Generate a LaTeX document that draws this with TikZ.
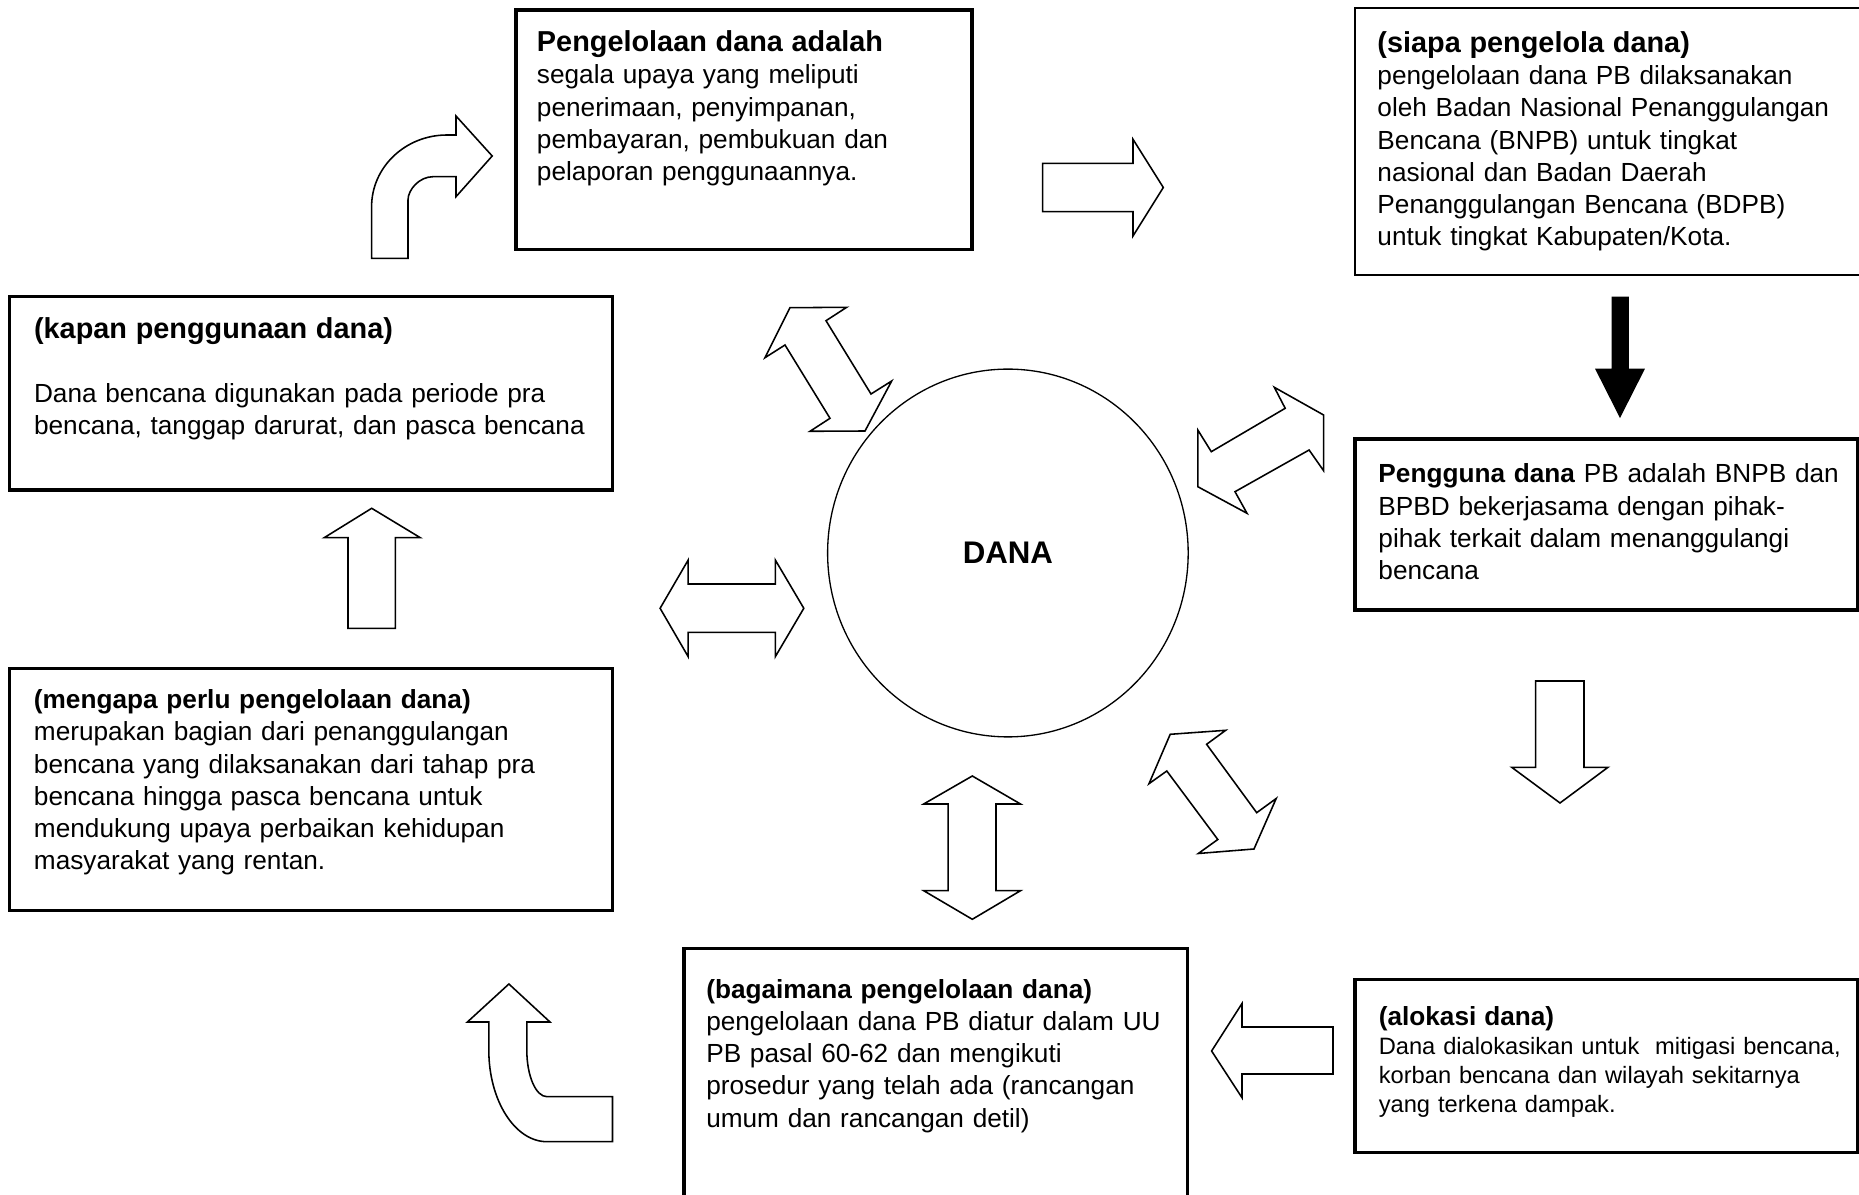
\documentclass[tikz,border=0pt]{standalone}
\usepackage{fontspec}
\setmainfont{Liberation Sans}
\usetikzlibrary{fit,shapes.geometric}
\newcommand\titlebig{\fontsize{12}{13.4}\selectfont\bfseries}
\newcommand\smallbody{\fontsize{9.85}{12}\selectfont}
\tikzset{
  thickbox/.style={draw, line width=1.3pt, inner sep=0pt},
  thinbox/.style={draw, line width=0.5pt, inner sep=0pt},
  txt/.style={anchor=base west, inner sep=0pt, text width=300pt, align=left,
    font=\fontsize{10.9}{13.4}\selectfont},
  blockarrow/.style={draw, line width=0.65pt, fill=white, line join=miter},
  solidarrow/.style={draw, line width=0.5pt, fill=black, line join=miter},
}
\begin{document}
\begin{tikzpicture}[x=0.416pt, y=-0.416pt]
\useasboundingbox (0,0) rectangle (1859,1195);
\clip (0,0) rectangle (1859,1195);

% ---- boxes ----
\node[thickbox, fit={(516,10) (972,249.3)}] (boxA) {};
\node[thinbox, fit={(1355,8) (1870,275)}] (boxB) {};
\node[thickbox, fit={(9.9,296.7) (612.9,490)}] (boxC) {};
\node[thickbox, fit={(1355,439) (1857.5,610)}] (boxD) {};
\node[thickbox, fit={(9.8,668.3) (612.5,910.5)}] (boxE) {};
\node[thickbox, fit={(684,948.5) (1187.7,1210)}] (boxF) {};
\node[thickbox, fit={(1355,979.3) (1857.5,1152.4)}] (boxG) {};

% ---- texts ----
\node[txt] (tA) at (536.5,51.7) {{\titlebig Pengelolaan dana adalah}\\
segala upaya yang meliputi\\
penerimaan, penyimpanan,\\
pembayaran, pembukuan dan\\
pelaporan penggunaannya.};

\node[txt] (tB) at (1377,52.4) {{\titlebig (siapa pengelola dana)}\\
pengelolaan dana PB dilaksanakan\\
oleh Badan Nasional Penanggulangan\\
Bencana (BNPB) untuk tingkat\\
nasional dan Badan Daerah\\
Penanggulangan Bencana (BDPB)\\
untuk tingkat Kabupaten/Kota.};

\node[txt] (tC) at (33.6,338.3) {{\titlebig (kapan penggunaan dana)}\\[13.4pt]
Dana bencana digunakan pada periode pra\\
bencana, tanggap darurat, dan pasca bencana};

\node[txt] (tD) at (1378,482.9) {\textbf{Pengguna dana} PB adalah BNPB dan\\
BPBD bekerjasama dengan pihak-\\
pihak terkait dalam menanggulangi\\
bencana};

\node[txt] (tE) at (33.5,708.6) {\textbf{(mengapa perlu pengelolaan dana)}\\
merupakan bagian dari penanggulangan\\
bencana yang dilaksanakan dari tahap pra\\
bencana hingga pasca bencana untuk\\
mendukung upaya perbaikan kehidupan\\
masyarakat yang rentan.};

\node[txt] (tF) at (705.8,998.2) {\textbf{(bagaimana pengelolaan dana)}\\
pengelolaan dana PB diatur dalam UU\\
PB pasal 60-62 dan mengikuti\\
prosedur yang telah ada (rancangan\\
umum dan rancangan detil)};

\node[txt, font=\smallbody] (tG) at (1378.3,1025.5) {{\fontsize{10.9}{12}\selectfont\bfseries (alokasi dana)}\\
Dana dialokasikan untuk\ \ mitigasi bencana,\\
korban bencana dan wilayah sekitarnya\\
yang terkena dampak.};

% ---- centre ----
\node[ellipse, draw, line width=0.55pt, inner sep=0pt,
      minimum width=150pt, minimum height=153pt,
      font=\fontsize{13}{15}\selectfont\bfseries] (dana) at (1007.9,553) {DANA};

% ---- block arrows ----
% bent arrow top-left (up, then right)
\draw[blockarrow] (371.6,258.3) -- (371.6,206.7)
  .. controls (371.6,167.1) and (405.4,135) .. (447,135)
  -- (456,135) -- (456,116) -- (492.2,156) -- (456,196.7) -- (456,176.7) -- (433,176.7)
  .. controls (419.2,176.7) and (408,189.8) .. (408,200)
  -- (408,258.3) -- cycle;

% right arrow A -> B
\draw[blockarrow] (1042.7,163.3) -- (1133,163.3) -- (1133,139.3) -- (1163.3,187.5)
  -- (1133,236) -- (1133,211.7) -- (1042.7,211.7) -- cycle;

% solid arrow B -> D
\draw[solidarrow] (1612.3,297.3) -- (1628.3,297.3) -- (1628.3,369.3) -- (1644,369.3)
  -- (1620,416.7) -- (1596,369.3) -- (1612.3,369.3) -- cycle;

% down arrow D -> G
\draw[blockarrow] (1535.7,681) -- (1584,681) -- (1584,767.3) -- (1608,767.3)
  -- (1560,803) -- (1511.7,767.3) -- (1535.7,767.3) -- cycle;

% left arrow G -> F
\draw[blockarrow] (1333,1027) -- (1242,1027) -- (1242,1003.5) -- (1211.6,1051)
  -- (1242,1097.7) -- (1242,1074) -- (1333,1074) -- cycle;

% bent arrow bottom-left (left, then up)
\draw[blockarrow] (612.5,1096.7) -- (547,1096.7)
  .. controls (535.8,1096.7) and (526.8,1075.8) .. (526.8,1050)
  -- (526.8,1022) -- (550,1022) -- (508.9,984) -- (467.4,1022) -- (488.8,1022)
  -- (488.8,1050)
  .. controls (488.8,1100.6) and (514.9,1141.7) .. (547,1141.7)
  -- (612.5,1141.7) -- cycle;

% up arrow E -> C
\draw[blockarrow] (348,628.3) -- (348,537.7) -- (324.2,537.7) -- (371.7,508.3)
  -- (420.3,537.7) -- (395.4,537.7) -- (395.4,628.3) -- cycle;

% double arrow left of DANA
\draw[blockarrow] (660.1,608.3) -- (688.2,560) -- (688.2,584) -- (775.3,584) -- (775.3,560)
  -- (803.8,608.3) -- (775.3,656.7) -- (775.3,632.3) -- (688.2,632.3) -- (688.2,656.7) -- cycle;

% double arrow below DANA
\draw[blockarrow] (972.3,776) -- (1020.5,804) -- (996,804) -- (996,890.7) -- (1020.5,890.7)
  -- (972.3,919.3) -- (923.7,890.7) -- (948.2,890.7) -- (948.2,804) -- (923.7,804) -- cycle;

% diagonal double arrow top-left of DANA
\draw[blockarrow] (790,307.7) -- (846.7,307.3) -- (826,320.7) -- (871,394) -- (891.7,381)
  -- (865,431) -- (810,431.3) -- (830,418.3) -- (785,345) -- (765,357.7) -- cycle;

% diagonal double arrow right of DANA
\draw[blockarrow] (1274.3,387.3) -- (1323.6,415) -- (1323.6,470.7) -- (1309.1,450)
  -- (1235,491.7) -- (1247,513.3) -- (1197.8,486.7) -- (1197.8,430) -- (1211.3,451.7)
  -- (1285.2,408.3) -- cycle;

% diagonal double arrow lower-right of DANA
\draw[blockarrow] (1170.2,734.3) -- (1225.7,730.3) -- (1206.6,744.3) -- (1256.7,812.7)
  -- (1276.2,798.5) -- (1254,849) -- (1198.3,853.5) -- (1217.8,839.5) -- (1166.8,771)
  -- (1149,783.7) -- cycle;
\end{tikzpicture}
\end{document}
